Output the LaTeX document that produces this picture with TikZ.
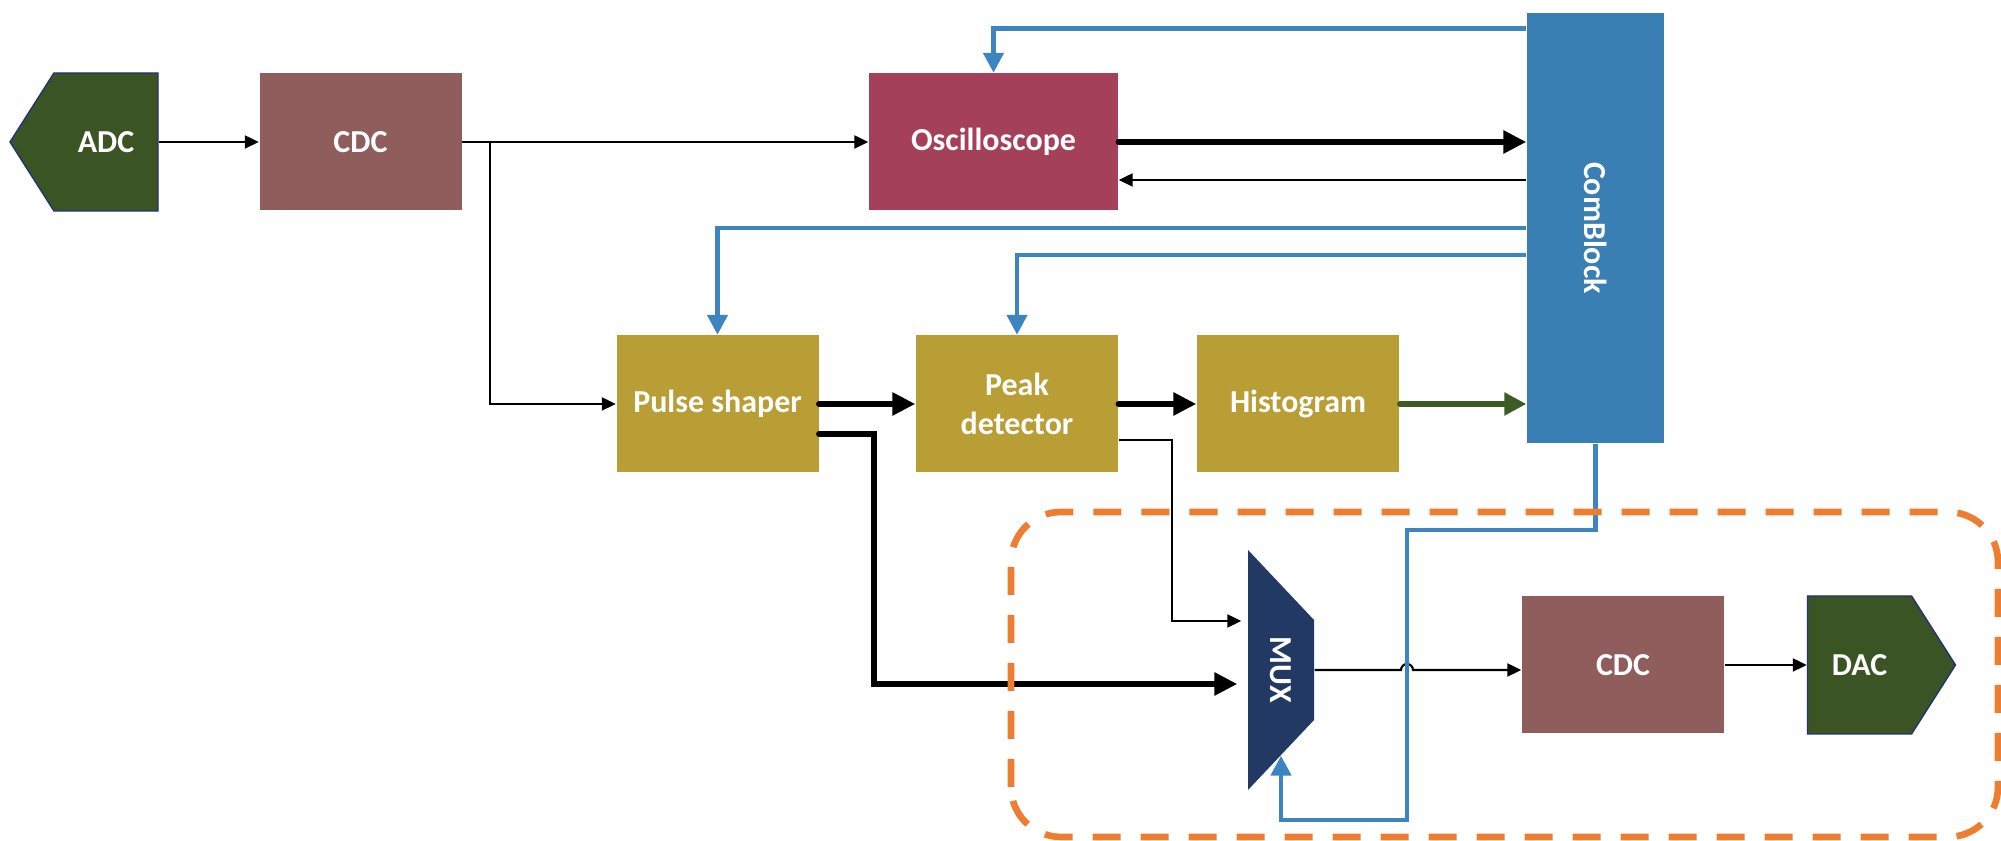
\documentclass[tikz,border=0pt]{standalone}
\usepackage{fontspec}
\setmainfont{Carlito}
\usepackage{graphicx}
\usetikzlibrary{arrows.meta,shapes.symbols}
\definecolor{adcgreen}{HTML}{3A5423}
\definecolor{cdcbrown}{HTML}{8F5E5C}
\definecolor{oscred}{HTML}{A4405A}
\definecolor{procgold}{HTML}{B89E35}
\definecolor{cbblue}{HTML}{3A7FB3}
\definecolor{muxnavy}{HTML}{213963}
\definecolor{wireblue}{HTML}{3D85C0}
\definecolor{histgreen}{HTML}{3D5C23}
\definecolor{dashorange}{HTML}{ED7D31}
\begin{document}
\begin{tikzpicture}[every node/.style={font=\fontsize{9.1}{11}\selectfont\bfseries,text=white},
  blk/.style={minimum width=2.02cm,minimum height=1.37cm,inner sep=1pt,align=center},
  conv/.style={signal,signal from=nowhere,signal pointer angle=115,draw=adcgreen!60!blue,line width=0.4pt,
    fill=adcgreen,minimum width=1.48cm,minimum height=1.38cm,inner sep=1pt},
  muxshape/.style={minimum width=0.66cm,minimum height=2.40cm,inner sep=0pt,
    path picture={\fill[muxnavy] (path picture bounding box.north west)
      -- ([yshift=-7mm]path picture bounding box.north east)
      -- ([yshift=7mm]path picture bounding box.south east)
      -- (path picture bounding box.south west) -- cycle;}},
  wire/.style={-{Triangle[length=1.4mm,width=1.3mm]},line width=0.6pt},
  bus/.style={-{Triangle[length=2.3mm,width=2.2mm]},line width=1.8pt,line cap=round},
  ctrl/.style={-{Triangle[length=2mm,width=2mm]},line width=1.3pt,draw=wireblue},
  hdata/.style={-{Triangle[length=2.2mm,width=2.2mm]},line width=1.5pt,draw=histgreen,line cap=round}]
\useasboundingbox (0,0) rectangle (20.01,8.41);
\node[conv,signal to=west] (adc) at (1.06,6.99) {ADC};
\node[blk,fill=cdcbrown] (cdc1) at (3.605,6.99) {CDC};
\node[blk,fill=oscred,minimum width=2.49cm] (osc) at (9.935,6.99) {Oscilloscope};
\node[fill=cbblue,minimum width=1.37cm,minimum height=4.30cm,inner sep=0pt] (cb) at (15.955,6.13) {\rotatebox{-90}{ComBlock}};
\node[blk,fill=procgold] (ps) at (7.175,4.37) {Pulse shaper};
\node[blk,fill=procgold] (pd) at (10.17,4.37) {Peak\\detector};
\node[blk,fill=procgold] (hist) at (12.98,4.37) {Histogram};
\node[muxshape] (mux) at (12.81,1.71) {\rotatebox{-90}{MUX}};
\node[blk,fill=cdcbrown] (cdc2) at (16.23,1.76) {CDC};
\node[conv,signal to=east] (dac) at (18.595,1.76) {DAC};
\coordinate (pkin) at ([yshift=4.9mm,xshift=-0.6mm]mux.west);
\coordinate (busin) at ([yshift=-1.4mm,xshift=-1mm]mux.west);
\coordinate (muxsel) at ([yshift=3.5mm]mux.south);
\coordinate (sel) at (14.07,3.11);
\coordinate (selbot) at (14.07,0.21);
% data path
\draw[wire] (adc.east) -- (cdc1.west);
\draw[wire] (cdc1.east) -- (osc.west);
\draw[wire] ([xshift=2.8mm]cdc1.east) |- (ps.west);
\draw[bus] (osc.east) -- (osc.east -| cb.west);
\draw[wire] ([yshift=-3.8mm]cb.west |- osc.east) -- ([yshift=-3.8mm]osc.east);
\draw[bus] (ps.east) -- (pd.west);
\draw[bus] (pd.east) -- (hist.west);
\draw[hdata] (hist.east) -- (hist.east -| cb.west);
\draw[bus] ([yshift=-3mm]ps.east) -- ++(0.55,0) |- (busin);
\draw[wire] ([yshift=-3.6mm]pd.east) -- ++(0.53,0) |- (pkin);
\draw[wire] (mux.east) -- ([xshift=-0.6mm]mux.east -| sel) arc[start angle=180,end angle=0,radius=0.6mm] -- (mux.east -| cdc2.west);
\draw[wire] (cdc2.east) -- (dac.west);
% control from ComBlock
\draw[ctrl] ([yshift=-1.6mm]cb.north west) -| (osc.north);
\draw[ctrl] (cb.west) -| (ps.north);
\draw[ctrl] ([yshift=-2.7mm]cb.west) -| (pd.north);
\draw[ctrl] (cb.south) |- (sel) -- (selbot) -| (muxsel);
% output stage
\draw[dashorange,line width=1.9pt,dash pattern=on 2.8mm off 2mm,rounded corners=5mm] (10.11,0.04) rectangle (19.98,3.29);
\end{tikzpicture}
\end{document}
